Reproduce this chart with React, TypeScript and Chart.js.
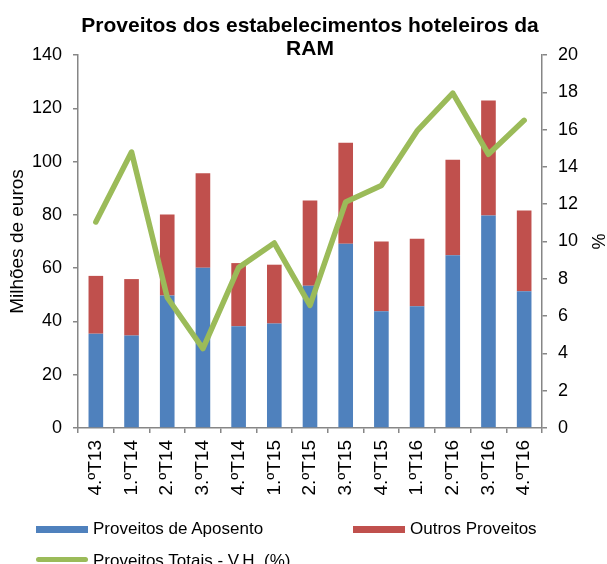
import React, { useEffect, useRef } from "react";
import { Chart, registerables } from "chart.js";

Chart.register(...registerables);

const categories = [
  "4.ºT13", "1.ºT14", "2.ºT14", "3.ºT14", "4.ºT14", "1.ºT15", "2.ºT15",
  "3.ºT15", "4.ºT15", "1.ºT16", "2.ºT16", "3.ºT16", "4.ºT16",
];
const proveitosAposento = [35.4, 34.7, 49.7, 60.2, 38.2, 39.2, 53.4, 69.2, 43.8, 45.7, 64.8, 79.8, 51.3];
const outrosProveitos = [21.7, 21.2, 30.4, 35.4, 23.7, 22.1, 32.0, 37.9, 26.2, 25.3, 35.9, 43.1, 30.3];
const proveitosTotaisVH = [11.05, 14.8, 7.0, 4.26, 8.6, 9.92, 6.58, 12.12, 13.0, 15.93, 17.96, 14.68, 16.5];

const leftTicks = { min: 0, max: 140, step: 20 };
const rightTicks = { min: 0, max: 20, step: 2 };

const BLUE = "#4F81BD";
const RED = "#C0504D";
const GREEN = "#9BBB59";
const AXIS = "#868686";
const FONT = "'Liberation Sans', Arial, sans-serif";

export default function App() {
  const ref = useRef<HTMLCanvasElement | null>(null);

  useEffect(() => {
    if (!ref.current) return;
    const chart = new Chart(ref.current, {
      type: "bar",
      data: {
        labels: categories,
        datasets: [
          {
            type: "line",
            label: "Proveitos Totais - V.H. (%)",
            data: proveitosTotaisVH,
            yAxisID: "y1",
            borderColor: GREEN,
            backgroundColor: GREEN,
            borderWidth: 5.5,
            pointRadius: 0,
            tension: 0,
            borderJoinStyle: "round",
            borderCapStyle: "round",
            order: 0,
          } as any,
          {
            type: "bar",
            label: "Proveitos de Aposento",
            data: proveitosAposento,
            yAxisID: "y",
            backgroundColor: BLUE,
            borderWidth: 0,
            barPercentage: 0.41,
            categoryPercentage: 1,
            stack: "s",
            order: 1,
          },
          {
            type: "bar",
            label: "Outros Proveitos",
            data: outrosProveitos,
            yAxisID: "y",
            backgroundColor: RED,
            borderWidth: 0,
            barPercentage: 0.41,
            categoryPercentage: 1,
            stack: "s",
            order: 1,
          },
        ],
      },
      options: {
        responsive: false,
        animation: false,
        devicePixelRatio: 1,
        layout: { padding: 0 },
        plugins: {
          legend: { display: false },
          tooltip: { enabled: false },
          title: {
            display: true,
            text: ["Proveitos dos estabelecimentos hoteleiros da", "RAM"],
            color: "#000",
            fullSize: false,
            font: { family: FONT, size: 21, weight: "bold", lineHeight: 1.12 },
            padding: { top: 14, bottom: -6 },
          },
        },
        scales: {
          x: {
            stacked: true,
            offset: true,
            grid: {
              display: true,
              offset: true,
              drawOnChartArea: false,
              drawTicks: true,
              tickLength: 5,
              color: AXIS,
              lineWidth: 1.5,
            },
            border: { display: true, color: AXIS, width: 1.5 },
            ticks: {
              color: "#000",
              font: { family: FONT, size: 19 },
              minRotation: 90,
              maxRotation: 90,
              padding: 7,
              autoSkip: false,
            },
            afterFit: (s: any) => {
              s.height = 136;
            },
          },
          y: {
            type: "linear",
            position: "left",
            stacked: true,
            min: leftTicks.min,
            max: leftTicks.max,
            grid: {
              display: true,
              drawOnChartArea: false,
              drawTicks: true,
              tickLength: 5,
              color: AXIS,
              lineWidth: 1.5,
            },
            border: { display: true, color: AXIS, width: 1.5 },
            ticks: {
              stepSize: leftTicks.step,
              color: "#000",
              font: { family: FONT, size: 18 },
              padding: 11,
            },
            title: {
              display: true,
              text: "Milhões de euros",
              color: "#000",
              font: { family: FONT, size: 19, lineHeight: 1.2 },
              padding: { top: 6, bottom: 0 },
            },
            afterFit: (s: any) => {
              s.width = 78;
            },
          },
          y1: {
            type: "linear",
            position: "right",
            stacked: false,
            min: rightTicks.min,
            max: rightTicks.max,
            grid: {
              display: true,
              drawOnChartArea: false,
              drawTicks: true,
              tickLength: 5,
              color: AXIS,
              lineWidth: 1.5,
            },
            border: { display: true, color: AXIS, width: 1.5 },
            ticks: {
              stepSize: rightTicks.step,
              color: "#000",
              font: { family: FONT, size: 18 },
              padding: 11,
            },
            title: {
              display: true,
              text: "%",
              color: "#000",
              font: { family: FONT, size: 18, lineHeight: 1 },
              padding: { top: 1, bottom: 0 },
            },
            afterFit: (s: any) => {
              s.width = 65;
            },
          },
        },
      },
    });
    return () => chart.destroy();
  }, []);

  const legendText: React.CSSProperties = {
    position: "absolute",
    fontFamily: FONT,
    fontSize: 17,
    lineHeight: "20px",
    color: "#000",
    whiteSpace: "nowrap",
  };

  return (
    <div
      style={{
        position: "fixed",
        left: 0,
        top: 0,
        width: 607,
        height: 564,
        background: "#fff",
        overflow: "hidden",
      }}
    >
      <canvas ref={ref} width={607} height={564} style={{ width: 607, height: 564, display: "block" }} />
      <div style={{ position: "absolute", left: 36, top: 526, width: 52, height: 7, background: BLUE }} />
      <div style={{ ...legendText, left: 93, top: 519 }}>Proveitos de Aposento</div>
      <div style={{ position: "absolute", left: 353, top: 526, width: 52, height: 7, background: RED }} />
      <div style={{ ...legendText, left: 410, top: 519 }}>Outros Proveitos</div>
      <div
        style={{
          position: "absolute",
          left: 36,
          top: 557,
          width: 52,
          height: 5,
          borderRadius: 3,
          background: GREEN,
        }}
      />
      <div style={{ ...legendText, left: 93, top: 551 }}>Proveitos Totais - V.H. (%)</div>
    </div>
  );
}
